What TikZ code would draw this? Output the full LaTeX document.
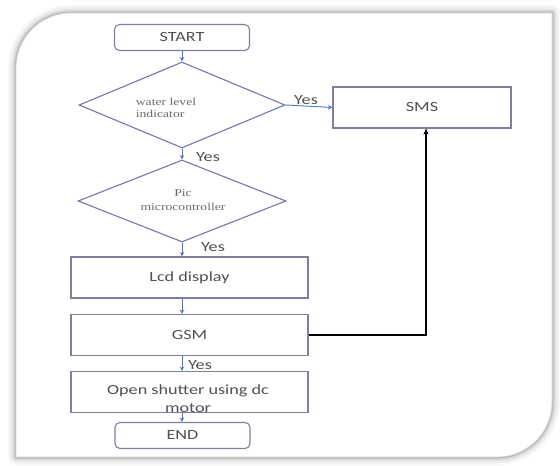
\documentclass[tikz,border=0pt]{standalone}
\usepackage{fontspec}
\newfontfamily\boxfont[FakeStretch=1.3]{Carlito}
\newfontfamily\dfont[FakeStretch=1.3]{Liberation Serif}
\usetikzlibrary{shapes.geometric,arrows.meta}
\definecolor{txt}{HTML}{505050}
\definecolor{bord}{HTML}{7D7F9C}
\definecolor{dbord}{HTML}{7676B0}
\definecolor{arr}{HTML}{4A78C0}
\begin{document}
\begin{tikzpicture}[x=1pt,y=-1pt,
  boxst/.style={draw=bord,line width=1.1pt,rectangle,minimum width=237pt,minimum height=41pt,inner sep=0pt,font=\boxfont\fontsize{14}{16}\selectfont,text=txt},
  term/.style={boxst,rounded corners=5pt,minimum width=135pt,minimum height=26pt},
  dec/.style={draw=dbord,line width=1.1pt,diamond,inner sep=0pt,aspect=2.4,minimum width=206pt,minimum height=86pt},
  dtext/.style={font=\dfont\fontsize{10.5}{12}\selectfont,text=txt!85,inner sep=0pt},
  flow/.style={draw=arr,line width=0.9pt,-{Stealth[length=4.5pt,width=4.5pt]}},
  lbl/.style={font=\boxfont\fontsize{14}{16}\selectfont,text=txt,inner sep=0pt},
]
\path[use as bounding box] (0,0) rectangle (560,466);
\fill[white] (0,0) rectangle (560,466);
% panel with soft shadow
\foreach \w/\o in {16/0.03,12/0.035,8/0.05,5/0.07,3/0.09}{
  \draw[line width=\w pt,black,opacity=\o,line join=round]
    (16,457) -- (16,68) .. controls (16,37.6) and (40.6,13) .. (71,13) -- (552,13) -- (552,402) .. controls (552,432.4) and (527.4,457) .. (497,457) -- cycle;
}
\fill[white] (16,457) -- (16,68) .. controls (16,37.6) and (40.6,13) .. (71,13) -- (552,13) -- (552,402) .. controls (552,432.4) and (527.4,457) .. (497,457) -- cycle;
\draw[black!18,line width=0.6pt] (16,457) -- (16,68) .. controls (16,37.6) and (40.6,13) .. (71,13) -- (552,13) -- (552,402) .. controls (552,432.4) and (527.4,457) .. (497,457) -- cycle;

% nodes
\node[term] (start) at (182,37.5) {START};
\node[dec] (d1) at (182,105) {};
\node[dtext,align=left] (d1t) at (166,107.5) {water level\\indicator};
\node[boxst,minimum width=178pt] (sms) at (422,107.5) {SMS};
\node[dec,minimum width=208pt,minimum height=82pt] (d2) at (182,201) {};
\node[dtext,align=center,font=\dfont\fontsize{10.5}{13.5}\selectfont] (d2t) at (183,200) {Pic\\microcontroller};
\node[boxst] (lcd) at (189.5,277.5) {Lcd display};
\node[boxst] (gsm) at (189.5,335) {GSM};
\node[boxst] (open) at (189.5,392) {};
\begin{scope}
  \clip (open.north west) rectangle (open.south east);
  \node[lbl,align=center,font=\boxfont\fontsize{14}{18}\selectfont] (opent) at (188,399) {Open shutter using dc\\motor};
\end{scope}
\node[term] (end) at (182.5,435.5) {END};

% connectors
\draw[flow] (start.south) -- (d1.north);
\draw[flow] (d1.south) -- (d2.north);
\draw[flow] (d1.east) -- (sms.west);
\draw[flow] (d2.south) -- (d2.south |- lcd.north);
\draw[flow] (lcd.south -| d2.south) -- (gsm.north -| d2.south);
\draw[flow] (gsm.south -| d2.south) -- (open.north -| d2.south);
\draw[flow] (open.south -| d2.south) -- (end.north -| d2.south);
\coordinate (turn) at (426,335);
\draw[black,line width=1.8pt,-{Stealth[length=6pt,width=5pt]}] (gsm.east) -- (turn) -- (turn |- sms.south);

% labels
\node[lbl] (y1) at (306,100) {Yes};
\node[lbl] (y2) at (208,157) {Yes};
\node[lbl] (y3) at (213,247) {Yes};
\node[lbl] (y4) at (200,365) {Yes};
\end{tikzpicture}
\end{document}
